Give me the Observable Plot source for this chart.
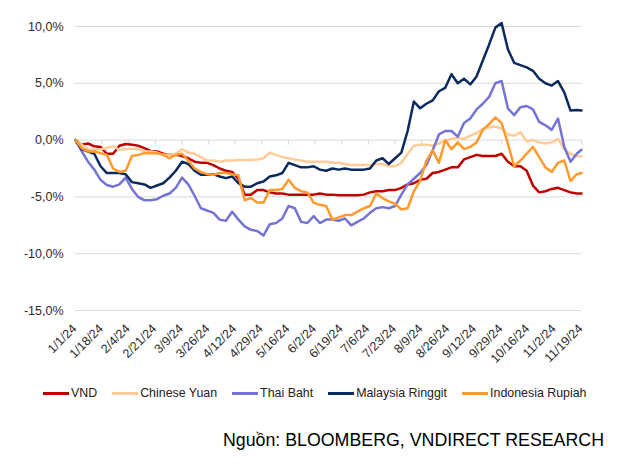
<!DOCTYPE html>
<html><head><meta charset="utf-8">
<script src="https://cdn.jsdelivr.net/npm/d3@7"></script>
<script src="https://cdn.jsdelivr.net/npm/@observablehq/plot@0.6"></script>
<style>
body{margin:0;background:#fff;font-family:"Liberation Sans",Arial,sans-serif;}
#wrap{position:relative;width:620px;height:467px;}
#legend{position:absolute;left:43px;top:385px;height:16px;display:flex;align-items:center;font-size:12.4px;color:#222;white-space:nowrap;}
.item{display:flex;align-items:center;margin-right:15px;}
.sw{width:26px;height:3px;margin-right:2px;}
#source{position:absolute;right:16px;top:432px;font-size:17.8px;line-height:1;color:#000;white-space:nowrap;}
</style></head><body>
<div id="wrap"><div id="chart"></div><div id="legend"></div><div id="source">Nguồn: BLOOMBERG, VNDIRECT RESEARCH</div></div>
<script>
const seriesNames = ["VND","Chinese Yuan","Thai Baht","Malaysia Ringgit","Indonesia Rupiah"];
const seriesColors = ["#C00000","#FFCC99","#7474D6","#0B2A5E","#FF9A2E"];
const yTicks = [-15,-10,-5,0,5,10];
const xTickLabels = ["1/1/24","1/18/24","2/4/24","2/21/24","3/9/24","3/26/24","4/12/24","4/29/24","5/16/24","6/2/24","6/19/24","7/6/24","7/23/24","8/9/24","8/26/24","9/12/24","9/29/24","10/16/24","11/2/24","11/19/24"];
const dates = ["2024-01-01","2024-01-05","2024-01-09","2024-01-13","2024-01-17","2024-01-21","2024-01-25","2024-01-29","2024-02-02","2024-02-06",
"2024-02-10","2024-02-14","2024-02-18","2024-02-22","2024-02-26","2024-03-01","2024-03-05","2024-03-09","2024-03-13","2024-03-17",
"2024-03-21","2024-03-25","2024-03-29","2024-04-02","2024-04-06","2024-04-10","2024-04-14","2024-04-18","2024-04-22","2024-04-26",
"2024-04-30","2024-05-04","2024-05-08","2024-05-12","2024-05-16","2024-05-20","2024-05-24","2024-05-28","2024-06-01","2024-06-05",
"2024-06-09","2024-06-13","2024-06-17","2024-06-21","2024-06-25","2024-06-29","2024-07-03","2024-07-07","2024-07-11","2024-07-15",
"2024-07-19","2024-07-23","2024-07-27","2024-07-31","2024-08-04","2024-08-08","2024-08-12","2024-08-16","2024-08-20","2024-08-24",
"2024-08-28","2024-09-01","2024-09-05","2024-09-09","2024-09-13","2024-09-17","2024-09-21","2024-09-25","2024-09-29","2024-10-03",
"2024-10-07","2024-10-11","2024-10-15","2024-10-19","2024-10-23","2024-10-27","2024-10-31","2024-11-04","2024-11-08","2024-11-12",
"2024-11-16","2024-11-19"];
const vnd = [0,-0.4,-0.3,-0.55,-0.6,-1.2,-1.2,-0.5,-0.35,-0.4,
 -0.5,-0.7,-0.95,-1.0,-1.2,-1.3,-1.3,-1.4,-1.6,-1.9,
 -2.0,-2.0,-2.2,-2.5,-2.7,-2.8,-3.4,-4.8,-4.8,-4.4,
 -4.4,-4.6,-4.7,-4.7,-4.8,-4.8,-4.8,-4.8,-4.8,-4.7,
 -4.8,-4.8,-4.85,-4.85,-4.85,-4.85,-4.8,-4.6,-4.5,-4.5,
 -4.4,-4.4,-4.2,-3.9,-3.8,-3.5,-3.4,-2.9,-2.8,-2.6,
 -2.4,-2.4,-1.7,-1.5,-1.3,-1.4,-1.4,-1.4,-1.2,-1.9,
 -2.3,-2.3,-2.7,-4.0,-4.6,-4.5,-4.3,-4.2,-4.4,-4.6,
 -4.7,-4.7];
const cny = [0,-0.4,-0.8,-0.85,-0.8,-0.7,-0.55,-0.85,-0.8,-0.75,
 -0.8,-1.0,-1.0,-1.1,-1.3,-1.3,-1.2,-0.8,-1.1,-1.2,
 -1.5,-1.8,-1.8,-1.9,-1.8,-1.8,-1.75,-1.75,-1.75,-1.7,
 -1.6,-1.1,-1.3,-1.5,-1.6,-1.7,-1.8,-1.9,-1.9,-1.9,
 -1.9,-2.0,-2.0,-2.1,-2.2,-2.2,-2.2,-2.2,-2.1,-2.1,
 -2.3,-2.3,-2.0,-1.2,-0.5,-0.4,-0.4,-0.5,-0.3,-0.05,
 0.1,0.2,0.1,0.4,0.6,1.0,1.1,1.2,1.0,0.5,
 0.4,0.7,-0.1,0.0,-0.2,-0.3,-0.2,0.1,-0.8,-1.2,
 -1.4,-1.45];
const thb = [0,-1.0,-1.9,-2.6,-3.5,-3.95,-4.1,-3.9,-3.3,-4.3,
 -5.0,-5.3,-5.3,-5.2,-4.9,-4.7,-4.2,-3.3,-3.9,-4.9,
 -6.0,-6.2,-6.4,-7.0,-7.1,-6.3,-7.0,-7.6,-7.9,-8.0,
 -8.4,-7.4,-7.3,-6.9,-5.8,-6.0,-7.2,-7.3,-6.7,-7.3,
 -7.0,-7.0,-7.1,-6.9,-7.5,-7.2,-6.9,-6.4,-6.0,-5.9,
 -6.0,-5.8,-4.8,-3.9,-3.4,-2.9,-2.2,-0.9,0.5,0.8,
 0.8,0.3,1.5,1.9,2.7,3.2,3.8,5.0,5.2,2.8,
 2.2,2.9,3.0,2.7,1.6,1.3,0.9,1.9,-0.6,-1.9,
 -1.2,-0.85];
const myr = [0,-0.8,-1.0,-1.2,-2.3,-2.9,-2.9,-2.9,-3.0,-3.7,
 -3.8,-3.9,-4.2,-4.0,-3.8,-3.3,-2.7,-1.9,-2.1,-2.7,
 -3.05,-3.05,-3.0,-3.2,-3.35,-3.2,-3.8,-4.1,-4.1,-3.8,
 -3.65,-3.2,-3.1,-2.9,-2.0,-2.2,-2.4,-2.4,-2.3,-2.6,
 -2.7,-2.5,-2.6,-2.5,-2.6,-2.6,-2.6,-2.5,-1.8,-1.6,
 -2.1,-1.6,-1.1,0.8,3.4,2.8,3.2,3.5,4.3,4.6,
 5.8,5.0,5.4,4.9,5.6,7.0,8.4,9.9,10.3,8.0,
 6.8,6.6,6.4,6.1,5.4,5.0,4.8,5.2,4.2,2.6,
 2.65,2.6];
const idr = [0,-0.7,-1.0,-1.0,-1.15,-1.3,-2.5,-2.8,-2.7,-1.4,
 -1.3,-1.15,-1.15,-1.15,-1.3,-1.6,-1.3,-1.2,-1.8,-2.5,
 -2.8,-3.0,-3.05,-2.9,-2.9,-3.0,-3.1,-5.3,-5.1,-5.5,
 -5.5,-4.4,-4.4,-4.3,-3.5,-4.2,-4.5,-4.6,-5.5,-5.7,
 -5.8,-7.0,-6.8,-6.6,-6.6,-6.3,-6.0,-5.8,-4.7,-5.1,
 -5.4,-5.6,-6.1,-6.0,-4.5,-3.6,-1.8,-0.9,-2.0,0.0,
 -0.8,-0.2,-0.8,-0.6,-0.2,0.9,1.4,2.0,1.5,-0.3,
 -2.3,-1.8,-1.2,-0.6,-1.5,-2.4,-2.8,-2.0,-1.8,-3.6,
 -3.0,-2.9];
const seriesValues = [vnd, cny, thb, myr, idr];

const parseISO = s => { const [y,m,d] = s.split("-").map(Number); return new Date(Date.UTC(y, m-1, d)); };
const parseTick = s => { const [m,d,y] = s.split("/").map(Number); return new Date(Date.UTC(2000+y, m-1, d)); };
const fmt = v => v.toFixed(1).replace(".", ",") + "%";

const rows = [];
seriesNames.forEach((name, si) => {
  seriesValues[si].forEach((v, i) => rows.push({series: name, date: parseISO(dates[i]), value: v}));
});

const chart = Plot.plot({
  width: 620, height: 370,
  marginLeft: 75, marginRight: 39, marginTop: 26, marginBottom: 60,
  style: {fontFamily: "'Liberation Sans', Arial, sans-serif", fontSize: "12.5px", color: "#2b2b2b", background: "#fff", overflow: "visible"},
  x: {type: "utc", domain: [parseISO(dates[0]), parseTick(xTickLabels[xTickLabels.length-1])], axis: null},
  y: {domain: [-15, 10], ticks: yTicks, tickFormat: fmt, tickSize: 0, tickPadding: 12, label: null},
  color: {domain: seriesNames, range: seriesColors},
  marks: [
    Plot.ruleY(yTicks, {stroke: "#d9d9d9", strokeWidth: 1}),
    Plot.ruleX(xTickLabels, {x: d => parseTick(d), y1: 0, y2: -0.45, stroke: "#d9d9d9"}),
    Plot.line(rows, {x: "date", y: "value", z: "series", stroke: "series", strokeWidth: 2.5, strokeLinejoin: "round", strokeLinecap: "round"}),
    Plot.text(xTickLabels, {x: d => parseTick(d), y: () => -15, text: d => d, rotate: -45, textAnchor: "end", dx: -1, dy: 16, fontSize: 12.5, fill: "#2b2b2b"})
  ]
});
document.getElementById("chart").appendChild(chart);

const legend = document.getElementById("legend");
seriesNames.forEach((name, i) => {
  const it = document.createElement("div");
  it.className = "item";
  const sw = document.createElement("span");
  sw.className = "sw";
  sw.style.background = seriesColors[i];
  const tx = document.createElement("span");
  tx.textContent = name;
  it.appendChild(sw); it.appendChild(tx);
  legend.appendChild(it);
});
</script></body></html>
